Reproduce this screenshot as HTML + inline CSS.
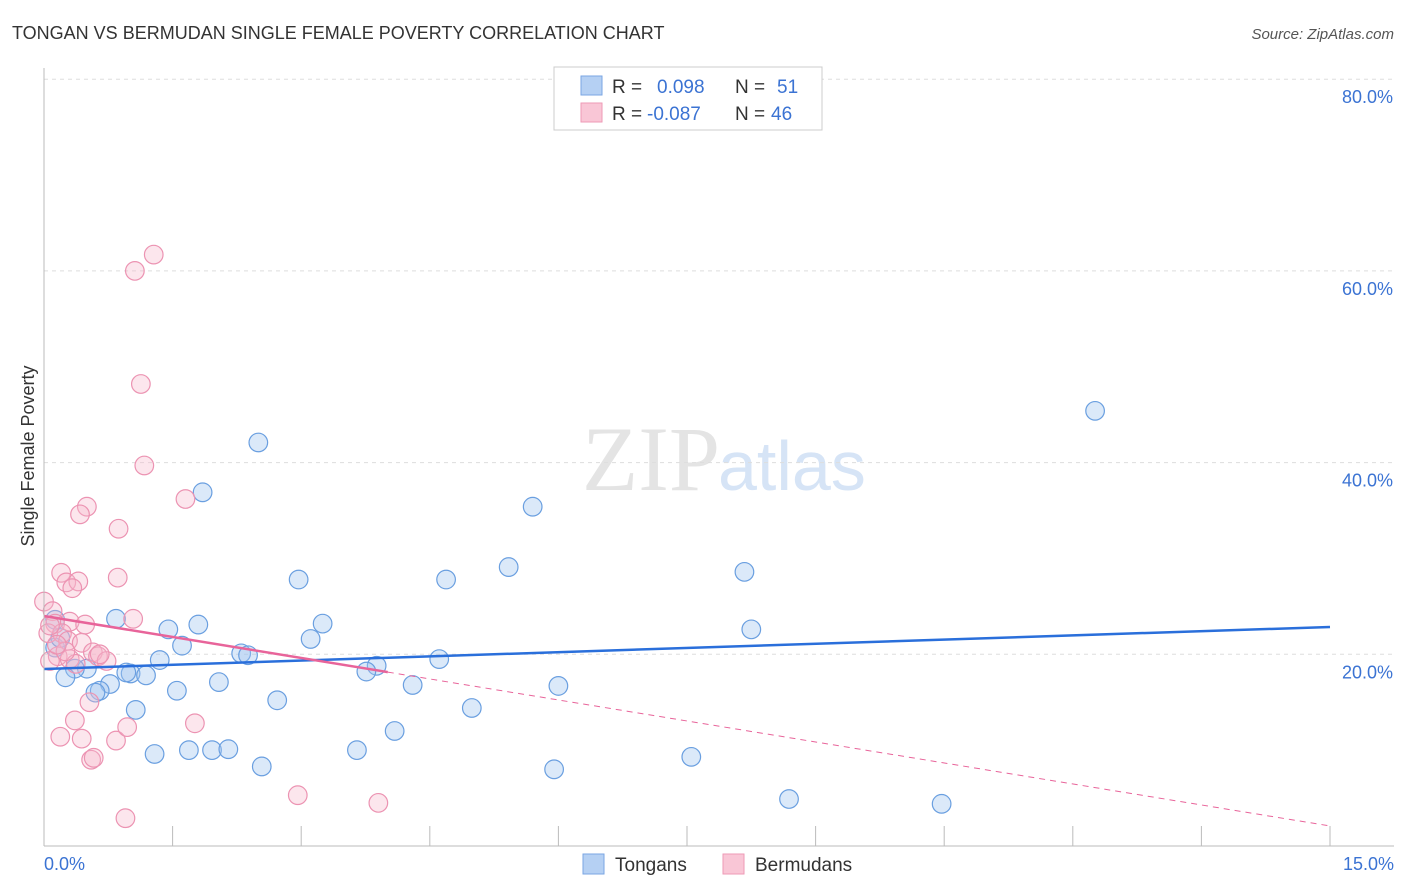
<!DOCTYPE html>
<html><head><meta charset="utf-8">
<style>
body{margin:0;background:#fff;font-family:"Liberation Sans",sans-serif;}
svg{display:block}
</style></head>
<body>
<svg id="chart" width="1406" height="892">
<text x="12" y="39" font-size="18" fill="#333">TONGAN VS BERMUDAN SINGLE FEMALE POVERTY CORRELATION CHART</text>
<text x="1394" y="39" font-size="15" fill="#555" font-style="italic" text-anchor="end">Source: ZipAtlas.com</text>
<text x="720" y="490" font-size="92" fill="#e4e4e4" text-anchor="end" font-family="Liberation Serif, serif">ZIP</text>
<text x="718" y="490" font-size="70" fill="#d6e4f6">atlas</text>
<g id="grid"></g>
<g id="marks"></g>
<line x1="44" y1="68" x2="44" y2="846" stroke="#bbb"/>
<line x1="44" y1="846" x2="1394" y2="846" stroke="#bbb"/>
<text transform="translate(34,456) rotate(-90)" font-size="18" fill="#333" text-anchor="middle">Single Female Poverty</text>
<text x="44" y="870" font-size="18" fill="#3b73d3">0.0%</text>
<text x="1394" y="870" font-size="18" fill="#3b73d3" text-anchor="end">15.0%</text>
<g>
<rect x="554" y="67" width="268" height="63" fill="#fff" stroke="#ccc"/>
<rect x="581" y="76" width="21" height="19" fill="#b5d0f3" stroke="#7aa6e3"/>
<rect x="581" y="103" width="21" height="19" fill="#f9c6d6" stroke="#ee9ab6"/>
<text x="612" y="93" font-size="19" fill="#333">R =</text>
<text x="657" y="93" font-size="19" fill="#3b73d3">0.098</text>
<text x="735" y="93" font-size="19" fill="#333">N =</text>
<text x="777" y="93" font-size="19" fill="#3b73d3">51</text>
<text x="612" y="120" font-size="19" fill="#333">R =</text>
<text x="647" y="120" font-size="19" fill="#3b73d3">-0.087</text>
<text x="735" y="120" font-size="19" fill="#333">N =</text>
<text x="771" y="120" font-size="19" fill="#3b73d3">46</text>
</g>
<g>
<rect x="583" y="854" width="21" height="20" fill="#b5d0f3" stroke="#7aa6e3"/>
<text x="615" y="871" font-size="19" fill="#333">Tongans</text>
<rect x="723" y="854" width="21" height="20" fill="#f9c6d6" stroke="#ee9ab6"/>
<text x="755" y="871" font-size="19" fill="#333">Bermudans</text>
</g>
</svg>
<script>
const yTicks=[20,40,60,80];
const xTickCount=10;
const tonganX=[12.26,2.5,1.85,5.7,5.42,8.17,4.69,2.97,0.84,3.25,1.8,1.45,8.25,3.11,1.61,0.13,2.3,2.38,1.35,4.61,3.88,3.76,1.01,1.19,0.96,0.5,0.36,0.25,0.77,0.65,0.6,6.0,4.3,2.04,1.55,2.72,1.07,4.99,4.09,3.65,1.29,1.69,1.96,2.15,7.55,2.54,5.95,8.69,10.47,0.13,0.19];
const tonganY=[45.4,42.1,36.9,35.4,29.1,28.6,27.8,27.8,23.7,23.2,23.1,22.6,22.6,21.6,20.9,23.6,20.1,19.9,19.4,19.5,18.8,18.2,18.0,17.8,18.1,18.5,18.5,17.6,16.9,16.2,16.0,16.7,16.8,17.1,16.2,15.2,14.2,14.4,12.0,10.0,9.6,10.0,10.0,10.1,9.3,8.3,8.0,4.9,4.4,20.7,21.7];
const bermudanX=[1.28,1.06,1.13,1.17,1.65,0.5,0.42,0.87,0.2,0.26,0.4,0.33,0.86,1.04,0,0.1,0.13,0.3,0.48,0.05,0.21,0.28,0.44,0.16,0.07,0.57,0.63,0.73,0.3,0.37,1.76,0.53,0.36,0.44,0.19,0.84,0.97,0.55,0.58,2.96,3.9,0.95,0.07,0.25,0.65,0.15];
const bermudanY=[61.7,60.0,48.2,39.7,36.2,35.4,34.6,33.1,28.5,27.5,27.6,26.9,28.0,23.7,25.5,24.5,23.2,23.4,23.1,22.2,22.2,21.4,21.2,19.8,19.3,20.2,19.8,19.3,19.5,19.0,12.8,15.0,13.1,11.2,11.4,11.0,12.4,9.0,9.2,5.3,4.5,2.9,23.0,20.3,20.0,21.0];
const tonganTrend=[18.47,22.85];
const bermudanTrend=[24.0,2.09];
const X0=44,X1=1330,Y0=846,YPER=191.7/20;
const sx=v=>X0+(v/15)*(X1-X0);
const sy=v=>Y0-v*YPER;
const NS="http://www.w3.org/2000/svg";
function mk(tag,attrs,parent){const e=document.createElementNS(NS,tag);for(const k in attrs)e.setAttribute(k,attrs[k]);parent.appendChild(e);return e;}
const grid=document.getElementById('grid'),marks=document.getElementById('marks');
yTicks.forEach(t=>{
 const l=mk('line',{x1:44,x2:1394,y1:sy(t),y2:sy(t),stroke:'#ddd','stroke-dasharray':'4,4'},grid);
 
 
 const tx=mk('text',{x:1393,y:sy(t)+24,'font-size':18,fill:'#3b73d3','text-anchor':'end'},grid);
 tx.textContent=t.toFixed(1)+'%';
 
 
});
for(let i=1;i<=xTickCount;i++){
 const v=15*i/xTickCount;
 const l=mk('line',{x1:sx(v),x2:sx(v),y1:826,y2:846,stroke:'#bbb'},grid);
 
 
}
tonganX.forEach((x,i)=>{
 const c=mk('circle',{cx:sx(x),cy:sy(tonganY[i]),r:9.3,fill:'rgba(160,196,240,0.38)',stroke:'#6a9fe0','stroke-width':1.2},marks);
 
 
});
bermudanX.forEach((x,i)=>{
 const c=mk('circle',{cx:sx(x),cy:sy(bermudanY[i]),r:9.3,fill:'rgba(246,182,202,0.35)',stroke:'#ec93b2','stroke-width':1.2},marks);
 
 
});
const bt=mk('line',{x1:sx(0),y1:sy(tonganTrend[0]),x2:sx(15),y2:sy(tonganTrend[1]),stroke:'#2a6fdb','stroke-width':2.5},marks);


const xs=4.01, ym=bermudanTrend[0]+(bermudanTrend[1]-bermudanTrend[0])*xs/15;
const pt=mk('line',{x1:sx(0),y1:sy(bermudanTrend[0]),x2:sx(xs),y2:sy(ym),stroke:'#e8649a','stroke-width':2.5},marks);


const pd=mk('line',{x1:sx(xs),y1:sy(ym),x2:sx(15),y2:sy(bermudanTrend[1]),stroke:'#e8649a','stroke-width':1,'stroke-dasharray':'6,5'},marks);


</script>
</body></html>
